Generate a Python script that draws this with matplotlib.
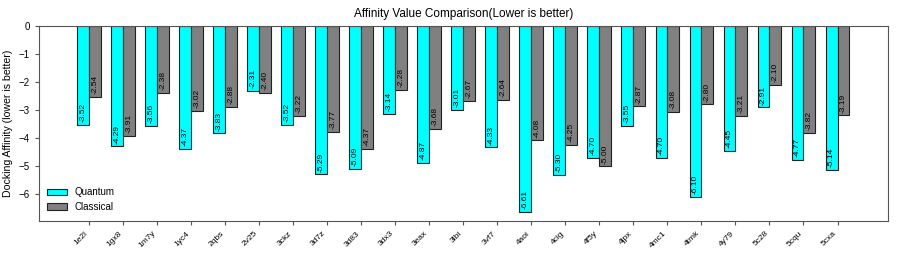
import matplotlib
matplotlib.use('agg')
import matplotlib.pyplot as plt
import numpy as np

proteins = ['1e2l', '1gx8', '1m7y', '1yc4', '2qbs', '2v25', '3ckz', '3d7z',
            '3d83', '3dx3', '3eax', '3lbi', '3vf7', '4aoi', '4cig', '4f5y',
            '4jpx', '4mc1', '4tmk', '4y79', '5c28', '5cqu', '5cxa']
quantum = [-3.52, -4.29, -3.56, -4.37, -3.83, -2.31, -3.52, -5.29, -5.09,
           -3.14, -4.87, -3.01, -4.33, -6.61, -5.30, -4.70, -3.55, -4.70,
           -6.10, -4.45, -2.91, -4.77, -5.14]
classical = [-2.54, -3.91, -2.38, -3.02, -2.88, -2.40, -3.22, -3.77, -4.37,
             -2.28, -3.68, -2.67, -2.64, -4.08, -4.25, -5.00, -2.87, -3.08,
             -2.80, -3.21, -2.10, -3.82, -3.19]

plt.rcParams['font.family'] = ['Liberation Sans', 'DejaVu Sans']

x = np.arange(len(proteins))
width = 0.35

fig, ax = plt.subplots(figsize=(8.97, 2.56), dpi=100)
plt.subplots_adjust(left=0.043, right=0.99, top=0.9, bottom=0.137)

bars_q = ax.bar(x - width / 2, quantum, width, color='cyan',
                edgecolor='#222222', linewidth=0.8, label='Quantum')
bars_c = ax.bar(x + width / 2, classical, width, color='gray',
                edgecolor='#222222', linewidth=0.8, label='Classical')

# value labels sit inside the bar, just above its tip
for bars in (bars_q, bars_c):
    for b in bars:
        h = b.get_height()
        ax.text(b.get_x() + b.get_width() / 2, h + 0.1, '%.2f' % h,
                ha='center', va='bottom', rotation=90, fontsize=6)

ax.set_title('Affinity Value Comparison(Lower is better)', fontsize=8.5)
ax.set_ylabel('Docking Affinity (lower is better)', fontsize=7.6)
ax.set_xticks(x)
ax.set_xticklabels(proteins, rotation=45, ha='right', fontsize=6)
ax.tick_params(axis='y', labelsize=7)
ax.tick_params(length=3, color='#555555')
for s in ax.spines.values():
    s.set_color('#555555')
ax.legend(loc='lower left', frameon=False, fontsize=7)

plt.savefig('out.png', dpi=100)
